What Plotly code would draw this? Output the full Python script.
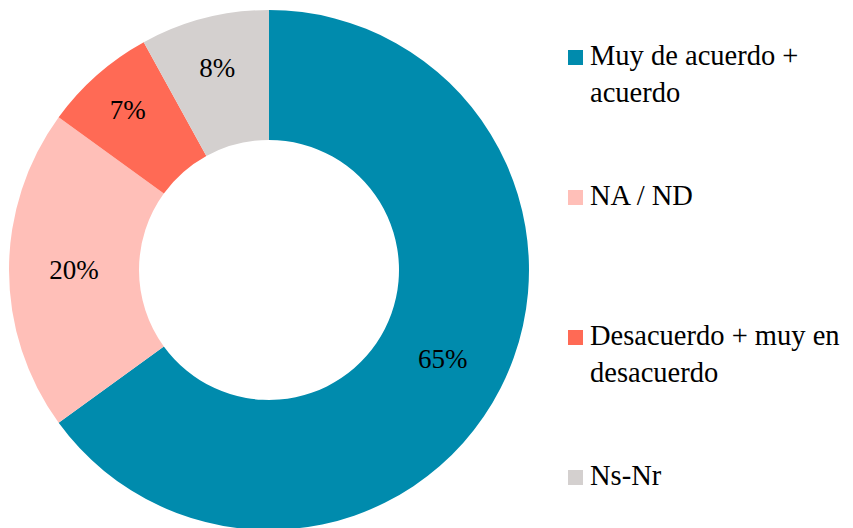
import plotly.graph_objects as go

categories = ["Muy de acuerdo + acuerdo", "NA / ND", "Desacuerdo + muy en desacuerdo", "Ns-Nr"]
legend_labels = ["Muy de acuerdo +<br>acuerdo", "NA / ND", "Desacuerdo + muy en<br>desacuerdo", "Ns-Nr"]
values = [65, 20, 7, 8]
colors = ["#008BAD", "#FFBFB8", "#FF6A55", "#D4D0CF"]

W, H = 853, 528
OFF = 8  # page body margin offset
MT, MB = 10 - OFF, 6
PH = H - MT - MB
FONT = "Liberation Serif"

def px_x(p):
    return (p - OFF) / W

def px_y(p):
    return (H - MB - (p - OFF)) / PH

fig = go.Figure()
fig.add_trace(go.Pie(
    labels=categories,
    values=values,
    hole=0.5,
    sort=False,
    direction="clockwise",
    rotation=0,
    marker=dict(colors=colors, line=dict(width=0)),
    texttemplate="%{percent:.0%}",
    textposition="inside",
    insidetextorientation="horizontal",
    textfont=dict(family=FONT, size=27, color="#000000"),
    domain=dict(x=[px_x(9), px_x(529)], y=[0, 1]),
    showlegend=False,
    hoverinfo="label+percent",
))

shapes = []
annotations = []
item_tops = [50, 190, 330, 470]
for lab, col, top in zip(legend_labels, colors, item_tops):
    shapes.append(dict(type="rect", xref="paper", yref="paper",
                       x0=px_x(568), x1=px_x(583), y0=px_y(top + 15), y1=px_y(top),
                       fillcolor=col, line=dict(width=0)))
    annotations.append(dict(text=lab, xref="paper", yref="paper",
                            x=px_x(588), y=px_y(top - 12), xanchor="left", yanchor="top",
                            align="left", showarrow=False,
                            font=dict(family=FONT, size=28.5, color="#000000")))

fig.update_layout(
    width=W, height=H,
    margin=dict(l=0, r=0, t=MT, b=MB),
    paper_bgcolor="white",
    plot_bgcolor="white",
    shapes=shapes,
    annotations=annotations,
)

fig.write_html("out.html")
